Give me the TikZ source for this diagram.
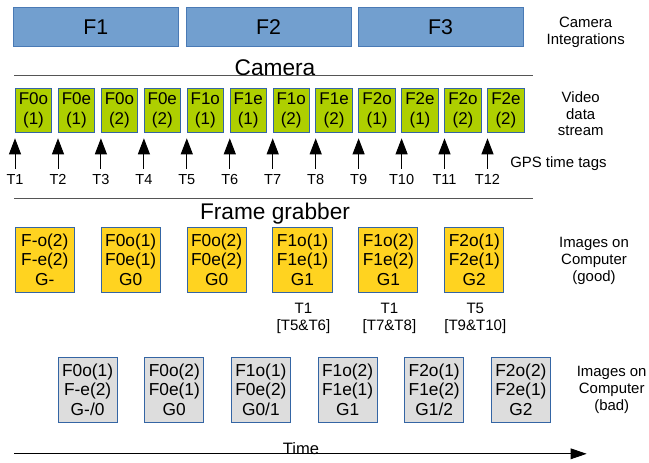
\documentclass[tikz,border=0pt]{standalone}
\usepackage{fontspec}
\setmainfont{Liberation Sans}
\usetikzlibrary{arrows.meta}
\definecolor{intblue}{HTML}{729FCF}
\definecolor{intedge}{HTML}{4A7AB5}
\definecolor{vidgreen}{HTML}{AECF00}
\definecolor{imgyellow}{HTML}{FFD320}
\definecolor{imggrey}{HTML}{DDDDDD}
\definecolor{boxedge}{HTML}{3465A4}
\definecolor{rulegrey}{HTML}{555555}
\tikzset{
  integ/.style={draw=intedge, fill=intblue, line width=0.75pt, minimum width=123.75pt, minimum height=29.5pt, inner sep=0pt, font=\fontsize{16}{19}\selectfont},
  vid/.style={draw=boxedge, fill=vidgreen, line width=0.75pt, minimum width=27.3pt, minimum height=33.3pt, inner sep=0pt, align=center, font=\fontsize{12.75}{15}\selectfont},
  good/.style={draw=boxedge, fill=imgyellow, line width=0.75pt, minimum width=44.3pt, minimum height=49pt, inner sep=0pt, align=center, font=\fontsize{13}{14.6}\selectfont},
  bad/.style={good, fill=imggrey},
  tag/.style={inner sep=0pt, outer sep=4pt, font=\fontsize{10.9}{13}\selectfont},
  tagarrow/.style={-{Triangle[length=12pt,width=9pt]}, line width=0.75pt},
  stamp/.style={align=center, inner sep=0pt, font=\fontsize{11.3}{12.5}\selectfont},
  side/.style={align=center, inner sep=0pt, font=\fontsize{11.2}{12.5}\selectfont},
  title/.style={anchor=base, inner sep=0pt, font=\fontsize{17}{20}\selectfont},
}
\begin{document}
\begin{tikzpicture}[x=0.75pt, y=-0.75pt]
\useasboundingbox (0,0) rectangle (649,462);
\node[integ] (fr1) at (95.8,27){F1};
\node[integ] (fr2) at (268.5,27){F2};
\node[integ] (fr3) at (440.5,27){F3};
\node[side] (lint) at (585.7,32.3){Camera\\Integrations};
\node[title] (cam) at (275,75.5){Camera};
\draw[rulegrey, line width=0.9pt] (14.3,75.3) -- (532.7,75.3);
\node[vid] (vid0) at (33.5,110.5){F0o\\(1)};
\node[vid] (vid1) at (76.4,110.5){F0e\\(1)};
\node[vid] (vid2) at (119.4,110.5){F0o\\(2)};
\node[vid] (vid3) at (162.3,110.5){F0e\\(2)};
\node[vid] (vid4) at (205.3,110.5){F1o\\(1)};
\node[vid] (vid5) at (248.2,110.5){F1e\\(1)};
\node[vid] (vid6) at (291.2,110.5){F1o\\(2)};
\node[vid] (vid7) at (334.1,110.5){F1e\\(2)};
\node[vid] (vid8) at (377.1,110.5){F2o\\(1)};
\node[vid] (vid9) at (420.0,110.5){F2e\\(1)};
\node[vid] (vid10) at (463.0,110.5){F2o\\(2)};
\node[vid] (vid11) at (505.9,110.5){F2e\\(2)};
\node[side] (lvid) at (580.7,113.7){Video\\data\\stream};
\node[tag] (tag1) at (15.0,179.3){T1};
\node[tag] (tag2) at (58.0,179.3){T2};
\node[tag] (tag3) at (100.9,179.3){T3};
\node[tag] (tag4) at (143.9,179.3){T4};
\node[tag] (tag5) at (186.8,179.3){T5};
\node[tag] (tag6) at (229.8,179.3){T6};
\node[tag] (tag7) at (272.7,179.3){T7};
\node[tag] (tag8) at (315.7,179.3){T8};
\node[tag] (tag9) at (358.6,179.3){T9};
\node[tag] (tag10) at (401.6,179.3){T10};
\node[tag] (tag11) at (444.5,179.3){T11};
\node[tag] (tag12) at (487.5,179.3){T12};
\coordinate (tip1) at (15.0,138.3);
\coordinate (tip2) at (58.0,138.3);
\coordinate (tip3) at (100.9,138.3);
\coordinate (tip4) at (143.9,138.3);
\coordinate (tip5) at (186.8,138.3);
\coordinate (tip6) at (229.8,138.3);
\coordinate (tip7) at (272.7,138.3);
\coordinate (tip8) at (315.7,138.3);
\coordinate (tip9) at (358.6,138.3);
\coordinate (tip10) at (401.6,138.3);
\coordinate (tip11) at (444.5,138.3);
\coordinate (tip12) at (487.5,138.3);
\draw[tagarrow] (tag1) -- (tip1);
\draw[tagarrow] (tag2) -- (tip2);
\draw[tagarrow] (tag3) -- (tip3);
\draw[tagarrow] (tag4) -- (tip4);
\draw[tagarrow] (tag5) -- (tip5);
\draw[tagarrow] (tag6) -- (tip6);
\draw[tagarrow] (tag7) -- (tip7);
\draw[tagarrow] (tag8) -- (tip8);
\draw[tagarrow] (tag9) -- (tip9);
\draw[tagarrow] (tag10) -- (tip10);
\draw[tagarrow] (tag11) -- (tip11);
\draw[tagarrow] (tag12) -- (tip12);
\node[side, anchor=west] (lgps) at (510,164){GPS time tags};
\draw[rulegrey, line width=0.9pt] (14.3,198.3) -- (532.7,198.3);
\node[title] (grab) at (275,219){Frame grabber};
\node[good] (good0) at (44.8,259.7){F-o(2)\\F-e(2)\\G-};
\node[good] (good1) at (130.7,259.7){F0o(1)\\F0e(1)\\G0};
\node[good] (good2) at (216.6,259.7){F0o(2)\\F0e(2)\\G0};
\node[good] (good3) at (302.5,259.7){F1o(1)\\F1e(1)\\G1};
\node[good] (good4) at (388.4,259.7){F1o(2)\\F1e(2)\\G1};
\node[good] (good5) at (474.3,259.7){F2o(1)\\F2e(1)\\G2};
\node[side] (lgood) at (594,261){Images on\\Computer\\(good)};
\node[stamp] (stamp3) at (303.5,318.3){T1\\{[T5\&T6]}};
\node[stamp] (stamp4) at (389.4,318.3){T1\\{[T7\&T8]}};
\node[stamp] (stamp5) at (475.3,318.3){T5\\{[T9\&T10]}};
\node[bad] (bad0) at (87.6,389.7){F0o(1)\\F-e(2)\\G-/0};
\node[bad] (bad1) at (174.3,389.7){F0o(2)\\F0e(1)\\G0};
\node[bad] (bad2) at (260.9,389.7){F1o(1)\\F0e(2)\\G0/1};
\node[bad] (bad3) at (347.6,389.7){F1o(2)\\F1e(1)\\G1};
\node[bad] (bad4) at (434.2,389.7){F2o(1)\\F1e(2)\\G1/2};
\node[bad] (bad5) at (520.9,389.7){F2o(2)\\F2e(1)\\G2};
\node[side] (lbad) at (611.7,390){Images on\\Computer\\(bad)};
\coordinate (t0) at (14.3,453.8);
\coordinate (t1) at (586.7,453.8);
\draw[-{Triangle[length=12pt,width=8pt]}, line width=0.75pt] (t0) -- (t1);
\node[anchor=base, inner sep=0pt, font=\fontsize{12.4}{14}\selectfont] (time) at (301,454){Time};
\end{tikzpicture}
\end{document}
